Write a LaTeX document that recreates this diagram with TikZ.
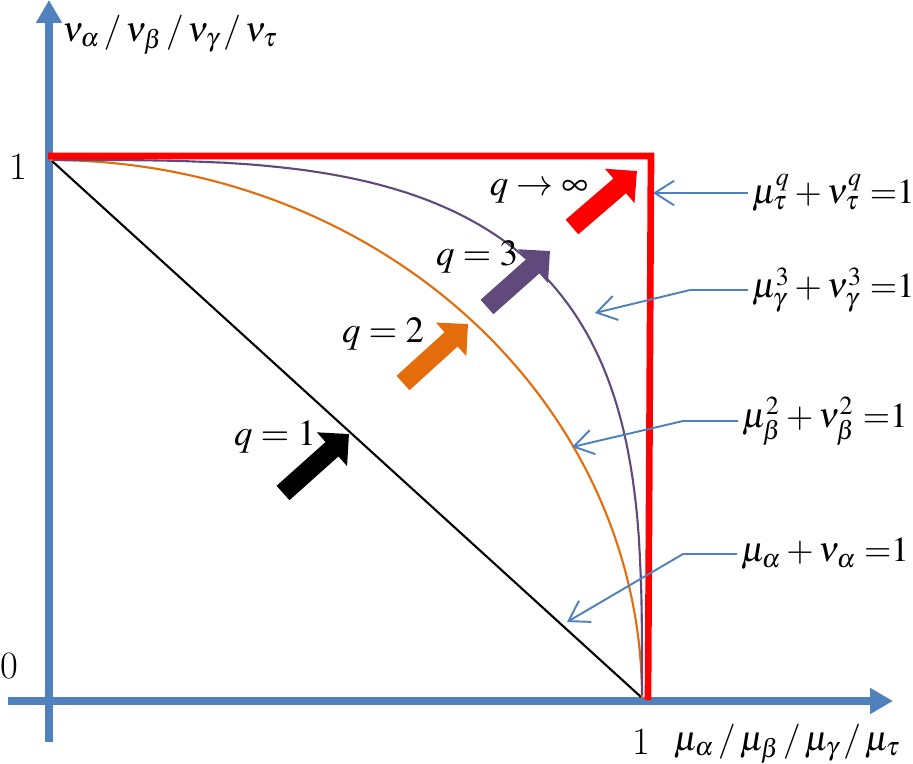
\documentclass[tikz,border=0pt]{standalone}
\usepackage{mathptmx}
\usetikzlibrary{arrows.meta}
\definecolor{axblue}{HTML}{4F81BD}
\definecolor{orng}{HTML}{E46C0A}
\definecolor{purp}{HTML}{604A7B}
\definecolor{redx}{HTML}{FF0000}
\begin{document}
\begin{tikzpicture}[x=0.02cm,y=-0.02cm,
  axis/.style={line width=5pt, axblue, -{Triangle[width=14pt,length=13pt]}},
  curve/.style={line width=1.2pt},
  block/.style={line width=11pt, -{Triangle[width=25pt,length=13pt]}},
  lead/.style={axblue, line width=1.1pt, -{Straight Barb[length=11pt,width=14pt]}},
  qlab/.style={font=\fontsize{21}{25}\selectfont, inner sep=0pt},
  eqlab/.style={font=\fontsize{20}{24}\selectfont, anchor=west, inner sep=2pt},
  ticklab/.style={font=\fontsize{22}{26}\selectfont, inner sep=0pt},
  axlab/.style={font=\fontsize{20}{24}\selectfont, inner sep=0pt}]
\useasboundingbox (0,0) rectangle (913,764);

% axes
\coordinate (yb) at (49,742);
\coordinate (yt) at (49,0);
\coordinate (xl) at (8,701);
\coordinate (xr) at (893,701);
\draw[axis] (yb) -- (yt);
\draw[axis] (xl) -- (xr);

% curves
\coordinate (p01) at (52,161);
\coordinate (p10) at (641,697);
\draw[curve,black] (p01) -- (p10);
\draw[curve,orng] plot[domain=0:90,samples=90] ({50+592*cos(\x)},{698-538*sin(\x)});
\draw[curve,purp] plot[domain=0.01:89.99,samples=181] ({50+592*pow(cos(\x),0.606)},{698-538*pow(sin(\x),0.606)});
\coordinate (r1) at (48,156);
\coordinate (r2) at (651,156);
\coordinate (r3) at (648,700);
\draw[redx,line width=3.8pt] (r1) -- (r2) -- (r3);

% block arrows
\coordinate (ra) at (572,227); \coordinate (rb) at (637,171);
\coordinate (pa) at (487,307); \coordinate (pb) at (550,251);
\coordinate (oa) at (403,383); \coordinate (ob) at (468,324);
\coordinate (ka) at (283,493); \coordinate (kb) at (349,434);
\draw[block,redx] (ra) -- (rb);
\draw[block,purp] (pa) -- (pb);
\draw[block,orng] (oa) -- (ob);
\draw[block,black] (ka) -- (kb);

% q labels
\node[qlab] (qinf) at (539,191) {$q\to\infty$};
\node[qlab] (q3) at (477,257) {$q=3$};
\node[qlab] (q2) at (383,334) {$q=2$};
\node[qlab] (q1) at (275,437) {$q=1$};

% equation labels with leaders
\node[eqlab] (lt) at (748,193) {$\mu_\tau^q+\nu_\tau^q\;{=}1$};
\node[eqlab] (lg) at (748,290) {$\mu_\gamma^3+\nu_\gamma^3\;{=}1$};
\node[eqlab] (lb) at (738,421) {$\mu_\beta^2+\nu_\beta^2\;{=}1$};
\node[eqlab] (la) at (737,554) {$\mu_\alpha+\nu_\alpha\;{=}1$};
\coordinate (ct) at (653,193);
\coordinate (cg) at (595,313);
\coordinate (cb) at (572,447);
\coordinate (ca) at (567,622);
\draw[lead] (lt.west) -- (ct);
\draw[lead] (lg.west) -- ++(-58,0) -- (cg);
\draw[lead] (lb.west) -- ++(-55,0) -- (cb);
\draw[lead] (la.west) -- ++(-54,0) -- (ca);

% tick and axis labels
\node[ticklab] (t1y) at (18,167) {1};
\node[ticklab] (t0) at (9,666) {0};
\node[ticklab] (t1x) at (641,742) {1};
\node[axlab] (ylab) at (170,35) {$\nu_\alpha\,/\,\nu_\beta\,/\,\nu_\gamma\,/\,\nu_\tau$};
\node[axlab] (xlab) at (787,744) {$\mu_\alpha\,/\,\mu_\beta\,/\,\mu_\gamma\,/\,\mu_\tau$};
\end{tikzpicture}
\end{document}
